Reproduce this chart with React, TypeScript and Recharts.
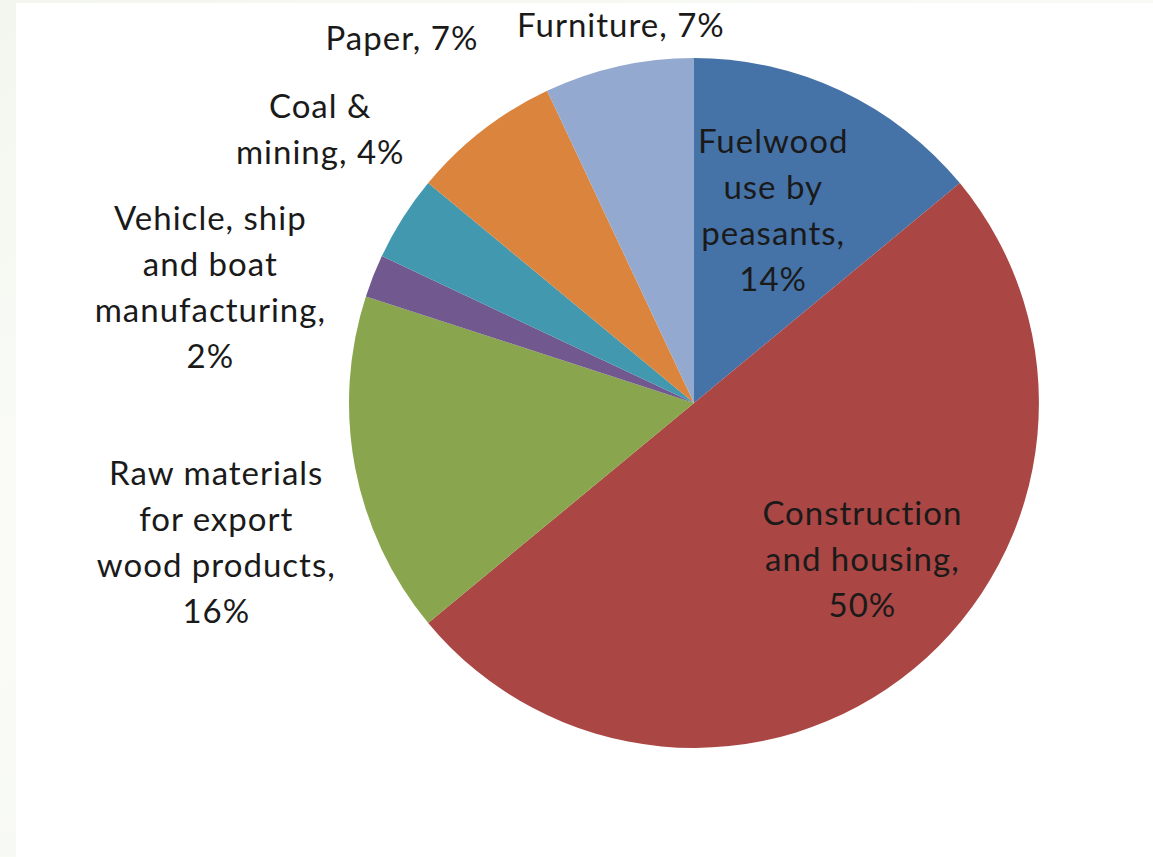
import { PieChart, Pie, Cell } from 'recharts';

const categories = [
  'Fuelwood use by peasants',
  'Construction and housing',
  'Raw materials for export wood products',
  'Vehicle, ship and boat manufacturing',
  'Coal & mining',
  'Paper',
  'Furniture',
];
const shares = [14, 50, 16, 2, 4, 7, 7];

// how each label is broken into lines (text only)
const labelLines = [
  ['Fuelwood', 'use by', 'peasants,', '14%'],
  ['Construction', 'and housing,', '50%'],
  ['Raw materials', 'for export', 'wood products,', '16%'],
  ['Vehicle, ship', 'and boat', 'manufacturing,', '2%'],
  ['Coal &', 'mining, 4%'],
  ['Paper, 7%'],
  ['Furniture, 7%'],
];

const COLORS = ['#4572A7', '#AA4643', '#89A54E', '#71588F', '#4198AF', '#DB843D', '#93A9CF'];

// label placement: distance from centre (px) and angle nudge (deg, clockwise)
const LABEL_LAYOUT = [
  { dist: 207, nudge: -2.7 },
  { dist: 231, nudge: -7.2 },
  { dist: 498, nudge: -5.6 },
  { dist: 497, nudge: -8.3 },
  { dist: 462, nudge: 3.6 },
  { dist: 466, nudge: -1 },
  { dist: 383, nudge: 1.6 },
];

const LINE_H = 46;
const RAD = Math.PI / 180;

const data = categories.map((name, i) => ({ name, value: shares[i] }));

function renderLabel(props: any) {
  const { cx, cy, midAngle, index } = props;
  const { dist, nudge } = LABEL_LAYOUT[index];
  const a = (midAngle - nudge) * RAD;
  const x = cx + dist * Math.cos(-a);
  const y = cy + dist * Math.sin(-a) - 3;
  const lines = labelLines[index];
  const y0 = y - ((lines.length - 1) * LINE_H) / 2;
  return (
    <text
      key={`lbl-${index}`}
      x={x}
      y={y0}
      textAnchor="middle"
      dominantBaseline="central"
      fill="#1a1a1a"
      fontSize={33}
      letterSpacing={1}
      fontFamily="Lato, 'Open Sans', sans-serif"
    >
      {lines.map((t, j) => (
        <tspan key={j} x={x} y={y0 + j * LINE_H}>
          {t}
        </tspan>
      ))}
    </text>
  );
}

export default function App() {
  return (
    <div
      style={{
        position: 'absolute',
        left: 0,
        top: 0,
        width: 1153,
        height: 857,
        background: 'linear-gradient(160deg, #f3f6ee 0%, #fafbf7 40%, #f5f7f0 100%)',
      }}
    >
      <style>{'body{margin:0}'}</style>
      <div
        style={{
          position: 'absolute',
          left: 16,
          top: 3,
          width: 1137,
          height: 854,
          background: '#ffffff',
        }}
      />
      <div style={{ position: 'absolute', left: 0, top: 0 }}>
        <PieChart width={1153} height={857} margin={{ top: 0, right: 0, bottom: 0, left: 0 }}>
          <Pie
            data={data}
            dataKey="value"
            nameKey="name"
            cx={694}
            cy={403}
            outerRadius={345}
            startAngle={90}
            endAngle={-270}
            stroke="none"
            label={renderLabel}
            labelLine={false}
            isAnimationActive={false}
          >
            {data.map((d, i) => (
              <Cell key={d.name} fill={COLORS[i]} />
            ))}
          </Pie>
        </PieChart>
      </div>
    </div>
  );
}
